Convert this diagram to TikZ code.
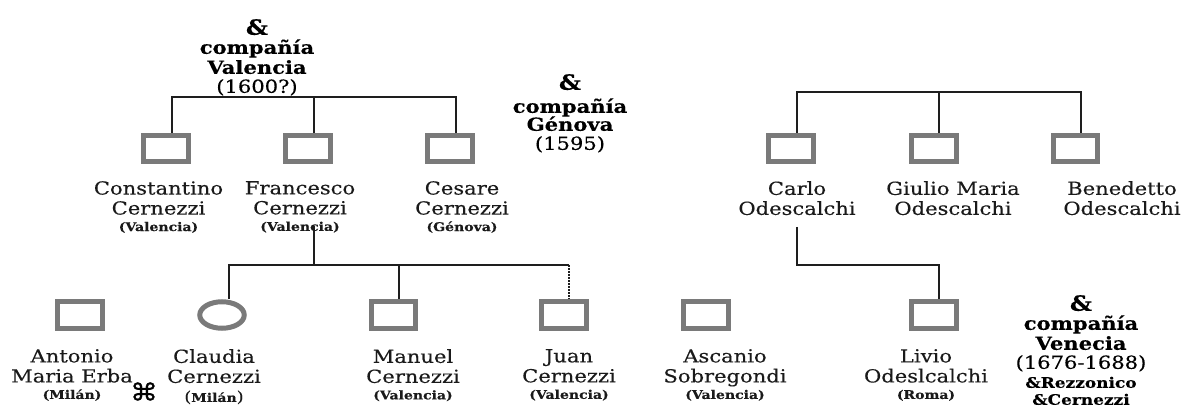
\documentclass[tikz,border=0pt]{standalone}
\usepackage{fontspec}
\setmainfont[FakeStretch=1.17,FakeBold=0.3]{DejaVu Serif}
\newfontfamily\symfont[FakeBold=1.2,FakeStretch=1.15]{DejaVu Sans}
\tikzset{
 x=1pt,y=-1pt,
 person/.style={draw=boxgray,line width=5pt,minimum width=44.5pt,minimum height=26.5pt,inner sep=0pt,outer sep=2.5pt,fill=white},
 fem/.style={person,ellipse},
 link/.style={draw=linedark,line width=2.4pt},
 namelab/.style={align=center,inner sep=0pt,font=\fontsize{18}{20}\selectfont,text=textdark,anchor=north},
 headlab/.style={align=center,inner sep=0pt,text=black,anchor=north,font=\fontsize{18}{20}\selectfont},
}
\definecolor{boxgray}{HTML}{7A7A7A}
\definecolor{linedark}{HTML}{1E1E1E}
\definecolor{textdark}{HTML}{1A1A1A}
\usetikzlibrary{shapes.geometric}
\newcommand{\plc}[1]{\\[-3.5pt]{\bfseries\fontsize{12}{13}\selectfont #1}}
\begin{document}
\begin{tikzpicture}
\useasboundingbox (0,0) rectangle (1184,406);
% persons
\node[person] (con) at (166,148.5) {};
\node[person] (fra) at (308,148.5) {};
\node[person] (ces) at (450,148.5) {};
\node[person] (car) at (791,148.5) {};
\node[person] (giu) at (934,148.5) {};
\node[person] (ben) at (1075.5,148.5) {};
\node[person] (ant) at (80,315) {};
\node[fem]    (cla) at (222,315) {};
\node[person] (man) at (393.5,315) {};
\node[person] (jua) at (564,315) {};
\node[person] (asc) at (706,315) {};
\node[person] (liv) at (934,315) {};
% attachment points
\path (con.north) ++(6,0) coordinate (conT);
\path (fra.north) ++(6,0) coordinate (fraT);
\path (ces.north) ++(6,0) coordinate (cesT);
\path (car.north) ++(6,0) coordinate (carT);
\path (giu.north) ++(5,0) coordinate (giuT);
\path (ben.north) ++(5.5,0) coordinate (benT);
\path (cla.north) ++(7,0) coordinate (claT);
\path (man.north) ++(5.5,0) coordinate (manT);
\path (jua.north) ++(5,0) coordinate (juaT);
\path (liv.north) ++(5,0) coordinate (livT);
\coordinate (barA) at (314,97);
\coordinate (barB) at (939,92);
\coordinate (barC) at (314,265);
\coordinate (fraD) at (314,226);
\coordinate (carD) at (797,227);
\coordinate (juaM) at (569,265);
\coordinate (carM) at (797,265);
% connectors
\draw[link] (conT) |- (barA) -| (cesT);
\draw[link] (barA) -- (fraT);
\draw[link] (carT) |- (barB) -| (benT);
\draw[link] (barB) -- (giuT);
\draw[link] (fraD) -- (barC);
\draw[link] (claT) |- (barC) -- (juaM);
\draw[link] (barC -| manT) -- (manT);
\draw[link,line width=1.6pt,dash pattern=on 2pt off 1pt] (juaM) -- (juaT);
\draw[link] (carD) -- (carM) -| (livT);
% names
\node[namelab] (tcon) at (158.5,181) {Constantino\\Cernezzi\plc{(Valencia)}};
\node[namelab] (tfra) at (300,181) {Francesco\\Cernezzi\plc{(Valencia)}};
\node[namelab] (tces) at (462,181) {Cesare\\Cernezzi\plc{(Génova)}};
\node[namelab] (tcar) at (797,181) {Carlo\\Odescalchi};
\node[namelab] (tgiu) at (953,181) {Giulio Maria\\Odescalchi};
\node[namelab] (tben) at (1122,181) {Benedetto\\Odescalchi};
\node[namelab] (tant) at (72,349) {Antonio\\Maria Erba\plc{(Milán)}};
\node[namelab] (tcla) at (214,349) {Claudia\\Cernezzi\\[-1pt]{\fontsize{15}{15}\selectfont(\bfseries\fontsize{12}{13}\selectfont Milán\mdseries\fontsize{15}{15}\selectfont)}};
\node[namelab] (tman) at (413,349) {Manuel\\Cernezzi\plc{(Valencia)}};
\node[namelab] (tjua) at (569,349) {Juan\\Cernezzi\plc{(Valencia)}};
\node[namelab] (tasc) at (725,349) {Ascanio\\Sobregondi\plc{(Valencia)}};
\node[namelab] (tliv) at (926,349) {Livio\\Odeslcalchi\plc{(Roma)}};
\node[inner sep=0pt,font=\symfont\fontsize{24}{24}\selectfont] (sym) at (144,391.5) {⌘};
% company headers
\node[headlab] (h1) at (257,19) {{\bfseries\fontsize{21}{21}\selectfont \&}\\[-1pt]{\bfseries compañía}\\{\bfseries Valencia}\\[-1pt](1600?)};
\node[headlab] (h2) at (570,74) {{\bfseries\fontsize{21}{21}\selectfont \&}\\[3pt]{\bfseries compañía}\\[-2pt]{\bfseries Génova}\\[-1pt](1595)};
\node[headlab] (h3) at (1081,295) {{\bfseries\fontsize{21}{21}\selectfont \&}\\[-1pt]{\bfseries compañía}\\{\bfseries Venecia}\\[-1pt](1676-1688)\\[-1pt]{\bfseries\fontsize{14.5}{16}\selectfont \&Rezzonico}\\[-3pt]{\bfseries\fontsize{14.5}{16}\selectfont \&Cernezzi}};
\end{tikzpicture}
\end{document}
